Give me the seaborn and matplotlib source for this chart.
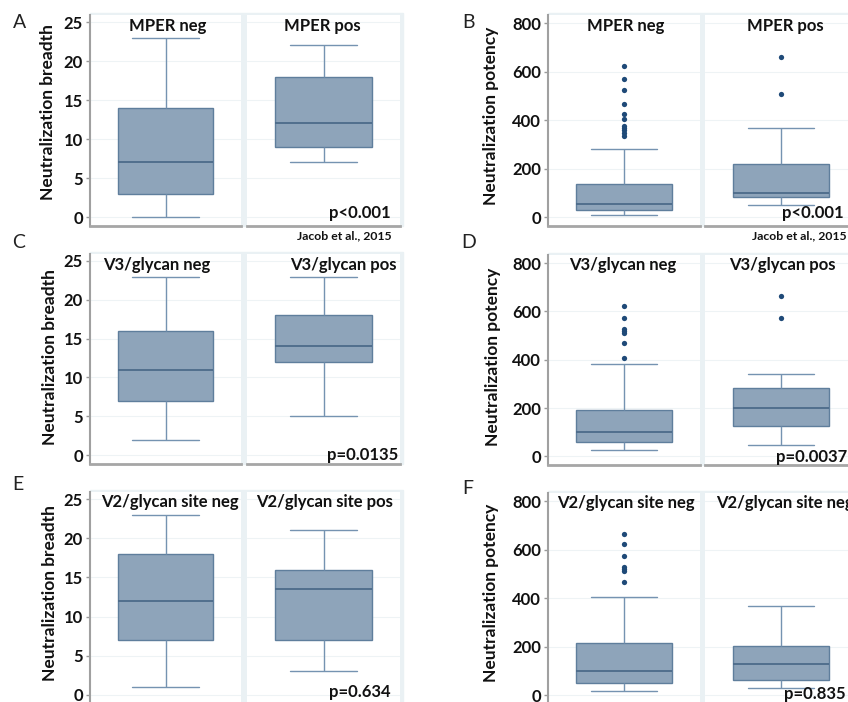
import numpy as np
import pandas as pd
import matplotlib
matplotlib.use("Agg")
import matplotlib.pyplot as plt
import seaborn as sns
from matplotlib.patches import Rectangle

# five-number summaries:
# [lower whisker, q1, median, q3, upper whisker], one list per facet (neg, pos)
mper_breadth = [[0, 3, 7, 14, 23], [7, 9, 12, 18, 22]]
mper_potency = [[10, 30, 55, 136, 283], [49, 82, 101, 220, 370]]
mper_potency_out = [[623, 570, 524, 468, 425, 404, 377, 368, 358, 347, 336], [662, 507]]

v3_breadth = [[2, 7, 11, 16, 23], [5, 12, 14, 18, 23]]
v3_potency = [[27, 60, 99, 191, 381], [47, 126, 202, 282, 343]]
v3_potency_out = [[623, 574, 529, 520, 511, 471, 408], [664, 572]]

v2_breadth = [[1, 7, 12, 18, 23], [3, 7, 13.5, 16, 21]]
v2_potency = [[16, 52, 102, 214, 405], [28, 63, 130, 203, 368]]
v2_potency_out = [[666, 623, 574, 530, 521, 512, 469], []]

mper_titles = ["MPER neg", "MPER pos"]
v3_titles = ["V3/glycan neg", "V3/glycan pos"]
v2_titles = ["V2/glycan site neg", "V2/glycan site pos"]
v2_titles_f = ["V2/glycan site neg", "V2/glycan site neg"]

breadth_ticks = [0, 5, 10, 15, 20, 25]
potency_ticks = [0, 200, 400, 600, 800]

p_vals = ["p<0.001", "p<0.001", "p=0.0135", "p=0.0037", "p=0.634", "p=0.835"]
cite = "Jacob et al., 2015"

box_fill = "#8EA4BA"
box_edge = "#5F7E9C"
whisk_col = "#7593B1"
dot_col = "#1F4A78"
bg_col = "#EAF1F4"

sns.set_theme(style="white")
plt.rcParams['font.family'] = ['Lato', 'DejaVu Sans']

W, H = 848, 702
fig = plt.figure(figsize=(W / 100, H / 100), dpi=100)


def frac(x0, y0, x1, y1):
    return [x0 / W, 1 - y1 / H, (x1 - x0) / W, (y1 - y0) / H]


def ftext(x, y, s, **kw):
    fig.text(x / W, 1 - y / H, s, **kw)


def draw_panel(xs, top, bottom, summ, outs, ylim, yticks, ylabel, lab_pos,
               titles, title_pos, letter, letter_pos, pval, pval_pos):
    # light frame behind the two facets
    fig.patches.append(Rectangle((xs[0][0] / W, 1 - bottom / H),
                                 (xs[1][1] + 3 - xs[0][0]) / W,
                                 (bottom - top + 2) / H,
                                 transform=fig.transFigure, color=bg_col, zorder=-5))
    for i, (x0, x1) in enumerate(xs):
        ax = fig.add_axes(frac(x0, top, x1, bottom))
        ax.set_facecolor("white")
        vals = pd.DataFrame({"v": summ[i]})
        sns.boxplot(data=vals, y="v", ax=ax, whis=(0, 100), width=0.635,
                    color=box_fill, saturation=1, linecolor=box_edge,
                    linewidth=1, showfliers=False,
                    medianprops={"color": "#4C6B8A", "linewidth": 1.3},
                    whiskerprops={"color": whisk_col},
                    capprops={"color": whisk_col})
        if outs is not None and len(outs[i]) > 0:
            sns.stripplot(y=outs[i], ax=ax, jitter=False, color=dot_col,
                          size=3.8, linewidth=0)
        # caps a bit wider than the seaborn default
        for ln in ax.lines:
            xd = np.asarray(ln.get_xdata(), dtype=float)
            yd = np.asarray(ln.get_ydata(), dtype=float)
            if len(xd) == 2 and yd[0] == yd[1] and xd[0] != xd[1]:
                if abs(xd[1] - xd[0]) < 0.5:
                    ln.set_xdata([-0.22, 0.22])
        ax.set_xlim(-0.5, 0.5)
        ax.set_ylim(ylim)
        ax.set_yticks(yticks)
        ax.set_xticks([])
        ax.set_xlabel("")
        ax.set_ylabel("")
        ax.grid(True, axis="y", color="#EEF3F5", linewidth=0.8)
        ax.set_axisbelow(True)
        ax.spines["top"].set_visible(False)
        ax.spines["right"].set_visible(False)
        ax.spines["bottom"].set_color("#A6A6A6")
        ax.spines["bottom"].set_linewidth(2)
        if i == 0:
            ax.spines["left"].set_color("#A0A0A0")
            ax.spines["left"].set_linewidth(1.5)
            ax.tick_params(axis="y", left=True, length=3, width=1,
                           color="#9A9A9A", pad=2, labelsize=12,
                           labelcolor="#111111")
            for t in ax.get_yticklabels():
                t.set_fontweight("bold")
        else:
            ax.spines["left"].set_visible(False)
            ax.tick_params(axis="y", left=False, labelleft=False)
        ftext(title_pos[i][0], title_pos[i][1], titles[i], ha="center",
              va="center", fontsize=12, fontweight="bold", color="#111111")
    ftext(lab_pos[0], lab_pos[1], ylabel, rotation=90, ha="center",
          va="center", fontsize=12.5, fontweight="bold", color="#111111")
    ftext(letter_pos[0], letter_pos[1], letter, ha="center", va="center",
          fontsize=14, color="#222222")
    ftext(pval_pos[0], pval_pos[1], pval, ha="right", va="center",
          fontsize=12, fontweight="bold", color="#111111")


left_x = [(90, 241), (247, 400)]
right_x = [(548, 700), (705, 857)]
b_lim = (-1.15, 25.9)
p_lim = (-36, 834)

# A
draw_panel(left_x, 15, 226, mper_breadth, None, b_lim, breadth_ticks,
           "Neutralization breadth", (48, 112), mper_titles,
           [(168, 26), (322, 26)], "A", (20, 22), p_vals[0], (391, 213))
# B
draw_panel(right_x, 15, 226, mper_potency, mper_potency_out, p_lim, potency_ticks,
           "Neutralization potency", (491, 116), mper_titles,
           [(626, 26), (785, 26)], "B", (468, 22), p_vals[1], (844, 213))
# C
draw_panel(left_x, 254, 464, v3_breadth, None, b_lim, breadth_ticks,
           "Neutralization breadth", (50, 357), v3_titles,
           [(157, 265), (343, 265)], "C", (19, 243), p_vals[2], (398, 455))
# D
draw_panel(right_x, 255, 465, v3_potency, v3_potency_out, p_lim, potency_ticks,
           "Neutralization potency", (493, 357), v3_titles,
           [(623, 265), (782, 265)], "D", (469, 243), p_vals[3], (847, 457))
# E
draw_panel(left_x, 492, 704, v2_breadth, None, b_lim, breadth_ticks,
           "Neutralization breadth", (50, 593), v2_titles,
           [(170, 502), (325, 502)], "E", (18, 485), p_vals[4], (391, 692))
# F
draw_panel(right_x, 493, 704, v2_potency, v2_potency_out, p_lim, potency_ticks,
           "Neutralization potency", (491, 593), v2_titles_f,
           [(626, 503), (785, 503)], "F", (468, 488), p_vals[5], (846, 694))

ftext(392, 236, cite, ha="right", va="center", fontsize=8.8,
      fontweight="bold", color="#111111")
ftext(847, 236, cite, ha="right", va="center", fontsize=8.8,
      fontweight="bold", color="#111111")

fig.savefig("out.png", dpi=100)
